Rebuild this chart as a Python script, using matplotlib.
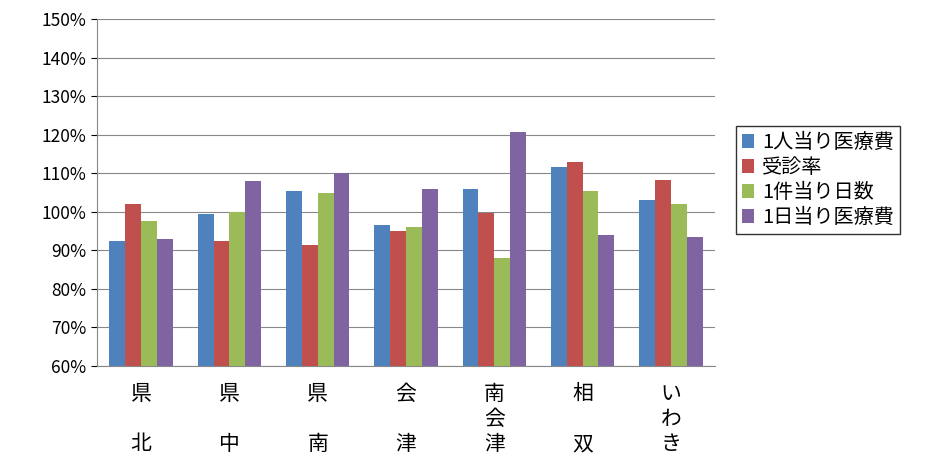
import matplotlib
matplotlib.use("Agg")
import matplotlib.pyplot as plt
import numpy as np

plt.rcParams['font.family'] = ['Noto Sans CJK JP', 'DejaVu Sans']

regions = ["県\n\n北", "県\n\n中", "県\n\n南", "会\n\n津", "南\n会\n津", "相\n\n双", "い\nわ\nき"]
series_names = ["1人当り医療費", "受診率", "1件当り日数", "1日当り医療費"]
per_person = [92.5, 99.5, 105.5, 96.5, 106.0, 111.7, 103.0]
visit_rate = [102.0, 92.5, 91.5, 95.0, 99.8, 113.0, 108.2]
days_per_case = [97.5, 100.0, 104.8, 96.0, 88.0, 105.5, 102.0]
per_day = [93.0, 108.0, 110.0, 106.0, 120.8, 94.0, 93.5]
colors = ["#4F81BD", "#C0504D", "#9BBB59", "#8064A2"]

fig = plt.figure(figsize=(9.35, 4.65), dpi=100)
ax = fig.add_axes([97 / 935, 1 - 366 / 465, 618 / 935, 347 / 465])

x = np.arange(len(regions))
w = 0.18
for i, (vals, name) in enumerate(zip([per_person, visit_rate, days_per_case, per_day], series_names)):
    ax.bar(x + (i - 1.5) * w, vals, w, color=colors[i], label=name, zorder=3)

ax.set_ylim(60, 150)
ax.set_xlim(-0.5, len(regions) - 0.5)
ax.set_yticks(range(60, 151, 10))
ax.set_yticklabels([f"{v}%" for v in range(60, 151, 10)], fontsize=12.5)
ax.yaxis.grid(True, color="#888888", lw=0.8, zorder=0)
ax.set_xticks(x)
ax.set_xticklabels(regions, fontsize=15, linespacing=1.2, va="top")
ax.tick_params(axis="x", length=0, pad=12)
ax.tick_params(axis="y", length=4)
for s in ["top", "right"]:
    ax.spines[s].set_visible(False)
ax.spines["left"].set_color("#888888")
ax.spines["bottom"].set_color("#888888")

ax.legend(loc="center left", bbox_to_anchor=(1.018, 0.535), fontsize=14.5,
          frameon=True, fancybox=False, edgecolor="black", handlelength=0.6,
          handletextpad=0.4, borderpad=0.3, labelspacing=0.2)

fig.savefig("out.png", dpi=100)
